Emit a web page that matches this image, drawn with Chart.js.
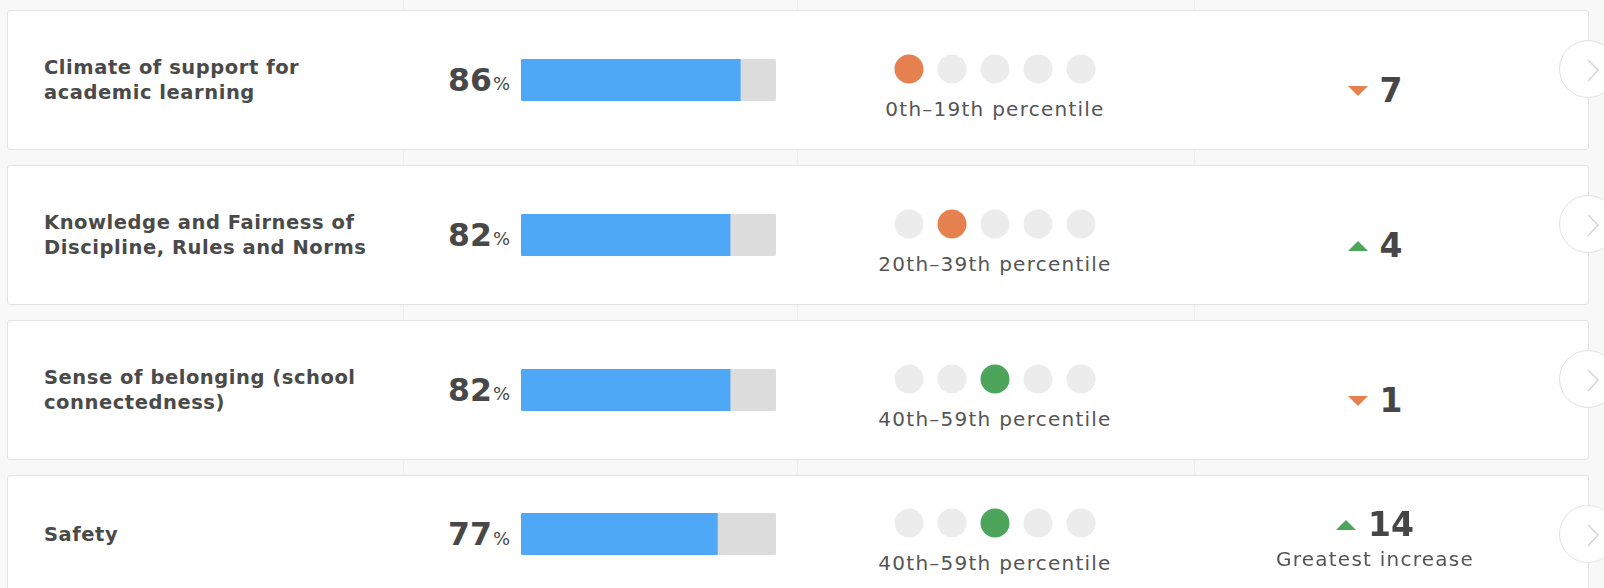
<!DOCTYPE html>
<html>
<head>
<meta charset="utf-8">
<script src="https://cdn.jsdelivr.net/npm/chart.js@4.4.1/dist/chart.umd.min.js"></script>
<style>
  html, body { margin:0; padding:0; width:1604px; height:588px; overflow:hidden; background:#f8f8f8; font-family:"DejaVu Sans", "Open Sans", sans-serif; }
  .vline { position:absolute; top:0; width:1px; height:588px; background:#efefef; }
  .card { position:absolute; left:7px; width:1582px; height:140px; background:#fff; border:1px solid #e3e3e3; border-radius:3px; box-sizing:border-box; }
  .label { position:absolute; left:44px; height:100px; display:flex; align-items:center; font-size:19.5px; font-weight:700; line-height:25px; color:#4a4a4a; white-space:nowrap; letter-spacing:0.55px; }
  .pct { position:absolute; right:calc(1604px - 510px); height:50px; display:flex; align-items:center; color:#484848; white-space:nowrap; }
  .pct .num { font-size:31.5px; font-weight:700; }
  .pct .sign { font-size:18px; font-weight:400; margin-left:1px; margin-top:8px; }
  .cv { position:absolute; }
  .ptext { position:absolute; width:320px; text-align:center; font-size:20px; line-height:26px; color:#555; white-space:nowrap; letter-spacing:1.25px; }
  .change { position:absolute; width:300px; display:flex; flex-direction:column; align-items:center; }
  .change .row { display:flex; align-items:center; height:36px; }
  .change .row canvas { margin-right:12px; display:block; }
  .change .num { font-size:33px; font-weight:700; color:#464646; line-height:36px; }
  .change .note { font-size:20px; color:#555; line-height:26px; margin-top:3px; white-space:nowrap; letter-spacing:1.25px; }
  .circ { position:absolute; width:58px; height:58px; border-radius:50%; background:#fff; border:1px solid #e2e2e2; box-sizing:border-box; }
  .circ svg { position:absolute; left:0; top:0; }
</style>
</head>
<body>
<div class="vline" style="left:403px"></div>
<div class="vline" style="left:797px"></div>
<div class="vline" style="left:1194px"></div>
<div id="root"></div>
<script>
// ---- data ----
const categories = [
  ["Climate of support for", "academic learning"],
  ["Knowledge and Fairness of", "Discipline, Rules and Norms"],
  ["Sense of belonging (school", "connectedness)"],
  ["Safety"]
];
const scores = [86, 82, 82, 77];
const scoreMax = 100;
const percentileBand = [0, 1, 2, 2];          // index of the highlighted dot
const bandLabels = ["0th–19th percentile", "20th–39th percentile", "40th–59th percentile", "60th–79th percentile", "80th–99th percentile"];
const dotPositions = [1, 2, 3, 4, 5];
const changes = [-7, 4, -1, 14];
const notes = ["", "", "", "Greatest increase"];

// ---- styles ----
const BLUE = '#4ea8f6', TRACK = '#dcdcdc', DOT = '#ececec';
const ORANGE = '#e5804f', GREEN = '#4ca55a';
const bandColors = [ORANGE, ORANGE, GREEN, GREEN, GREEN];

function triImage(color, up) {
  const c = document.createElement('canvas');
  c.width = 20; c.height = 10;
  const x = c.getContext('2d');
  x.fillStyle = color; x.beginPath();
  if (up) { x.moveTo(10, 0); x.lineTo(20, 10); x.lineTo(0, 10); }
  else { x.moveTo(0, 0); x.lineTo(20, 0); x.lineTo(10, 10); }
  x.closePath(); x.fill();
  return c;
}
const triUp = triImage(GREEN, true), triDown = triImage(ORANGE, false);

const baseOpts = {
  responsive: false, animation: false, devicePixelRatio: 1, events: [],
  layout: { padding: 0, autoPadding: false },
  plugins: { legend: { display: false }, tooltip: { enabled: false } }
};

function mkCanvas(parent, w, h, left, top) {
  const c = document.createElement('canvas');
  c.width = w; c.height = h;
  c.style.width = w + 'px'; c.style.height = h + 'px';
  if (left !== undefined) { c.className = 'cv'; c.style.left = left + 'px'; c.style.top = top + 'px'; }
  parent.appendChild(c);
  return c;
}

const root = document.getElementById('root');
categories.forEach((cat, i) => {
  const top = 10 + 155 * i;
  const cy = top + 69.5 - (notes[i] ? 10.5 : 0);

  const card = document.createElement('div');
  card.className = 'card'; card.style.top = top + 'px';
  root.appendChild(card);

  const lab = document.createElement('div');
  lab.className = 'label'; lab.style.top = (cy - 50) + 'px';
  lab.innerHTML = cat.join('<br>');
  root.appendChild(lab);

  const pct = document.createElement('div');
  pct.className = 'pct'; pct.style.top = (cy - 25) + 'px';
  pct.innerHTML = '<span class="num">' + scores[i] + '</span><span class="sign">%</span>';
  root.appendChild(pct);

  // bar: track + value
  const bc = mkCanvas(root, 255, 42, 521, Math.round(cy - 21));
  new Chart(bc, {
    type: 'bar',
    data: {
      labels: [cat.join(' ')],
      datasets: [
        { data: [scores[i]], backgroundColor: BLUE, borderSkipped: false,
          borderRadius: { topLeft: 3, bottomLeft: 3, topRight: 0, bottomRight: 0 },
          barPercentage: 1, categoryPercentage: 1, order: 1 },
        { data: [scoreMax], backgroundColor: TRACK, borderSkipped: false, borderRadius: 3,
          barPercentage: 1, categoryPercentage: 1, order: 2 }
      ]
    },
    options: Object.assign({}, baseOpts, {
      indexAxis: 'y',
      datasets: { bar: { grouped: false } },
      scales: { x: { display: false, min: 0, max: scoreMax }, y: { display: false } }
    })
  });

  // percentile dots
  const dc = mkCanvas(root, 258, 40, 866, Math.round(cy - 11 - 20));
  new Chart(dc, {
    type: 'scatter',
    data: {
      datasets: [{
        data: dotPositions.map(p => ({ x: p, y: 0 })),
        pointRadius: 14.5, pointHoverRadius: 14.5, borderWidth: 0, clip: false, pointStyle: 'circle',
        pointBackgroundColor: dotPositions.map((p, k) => k === percentileBand[i] ? bandColors[percentileBand[i]] : DOT)
      }]
    },
    options: Object.assign({}, baseOpts, {
      scales: { x: { display: false, min: 0, max: 6 }, y: { display: false, min: -1, max: 1 } }
    })
  });

  const pt = document.createElement('div');
  pt.className = 'ptext';
  pt.style.left = (995 - 160) + 'px';
  pt.style.top = (cy + 29 - 13) + 'px';
  pt.textContent = bandLabels[percentileBand[i]];
  root.appendChild(pt);

  // change
  const ch = document.createElement('div');
  ch.className = 'change';
  ch.style.left = (1375 - 150) + 'px';
  ch.style.top = (cy + 11.5 - 18 - (notes[i] ? 20.5 : 0)) + 'px';
  const row = document.createElement('div'); row.className = 'row';
  ch.appendChild(row);
  const tc = mkCanvas(row, 20, 12);
  const num = document.createElement('span'); num.className = 'num';
  num.textContent = Math.abs(changes[i]);
  row.appendChild(num);
  if (notes[i]) {
    const n = document.createElement('div'); n.className = 'note'; n.textContent = notes[i];
    ch.appendChild(n);
  }
  root.appendChild(ch);
  new Chart(tc, {
    type: 'scatter',
    data: { datasets: [{ data: [{ x: 0, y: 0 }], pointRadius: 5, pointHoverRadius: 5, clip: false,
      pointStyle: changes[i] >= 0 ? triUp : triDown }] },
    options: Object.assign({}, baseOpts, {
      scales: { x: { display: false, min: -1, max: 1 }, y: { display: false, min: -1, max: 1 } }
    })
  });

  // nav circle
  const cc = document.createElement('div');
  cc.className = 'circ';
  cc.style.left = (1588 - 29) + 'px';
  cc.style.top = (top + 58.5 - 29) + 'px';
  cc.innerHTML = '<svg width="58" height="58"><polyline points="28,19 38,29 28,40" fill="none" stroke="#d6d6d6" stroke-width="1.5"/></svg>';
  root.appendChild(cc);
});
</script>
</body>
</html>
